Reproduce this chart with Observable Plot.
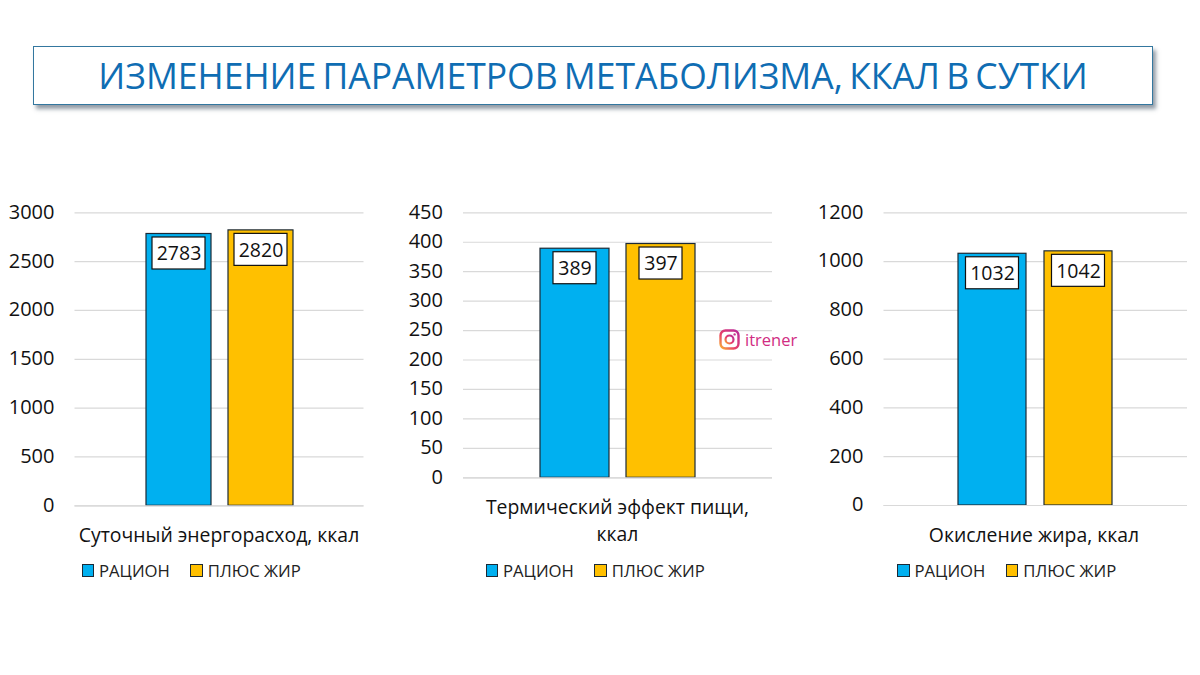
<!DOCTYPE html>
<html lang="ru">
<head>
<meta charset="utf-8">
<script src="https://cdn.jsdelivr.net/npm/d3@7"></script>
<script src="https://cdn.jsdelivr.net/npm/@observablehq/plot@0.6"></script>
<style>
html,body{margin:0;padding:0;background:#fff}
#page{position:relative;width:1200px;height:675px;overflow:hidden;font-family:"Open Sans",sans-serif;color:#111}
#title{position:absolute;left:33px;top:46px;width:1118px;height:57px;border:1px solid #33779f;background:#fff;box-shadow:3px 4px 4px rgba(40,60,80,.5);
 display:flex;align-items:center;justify-content:center;font-family:"Open Sans",sans-serif;font-size:36.5px;color:#0f6db3;white-space:nowrap}
#title span{display:block;transform:translateY(-1px) scaleX(.972);word-spacing:-3px}
.cat{position:absolute;font-size:19.4px;line-height:27.5px;text-align:center;white-space:nowrap;transform:translateX(-50%);color:#111}
.leg{position:absolute;top:559px;display:flex;align-items:center;height:23px;font-size:16.7px;color:#222;white-space:nowrap}
.leg i{display:block;width:10.5px;height:10.5px;border:1px solid #1c2a36;margin-right:5px}
.leg span{display:block;margin-right:20.5px}
#ig{position:absolute;left:719px;top:328px;display:flex;align-items:center;font-size:16.5px;color:#d12c82}
</style>
</head>
<body>
<div id="page">
  <div id="title"><span>ИЗМЕНЕНИЕ ПАРАМЕТРОВ МЕТАБОЛИЗМА, ККАЛ В СУТКИ</span></div>
</div>
<script>
const seriesNames = ["РАЦИОН", "ПЛЮС ЖИР"];
const seriesColors = ["#00B0F0", "#FFC000"];

const energyValues = [2783, 2820];
const energyTicks = [0, 500, 1000, 1500, 2000, 2500, 3000];
const thermicValues = [389, 397];
const thermicTicks = [0, 50, 100, 150, 200, 250, 300, 350, 400, 450];
const fatValues = [1032, 1042];
const fatTicks = [0, 200, 400, 600, 800, 1000, 1200];

const panels = [
  {values: energyValues, ticks: energyTicks, cat: ["Суточный энергорасход, ккал"], catX: 219, catY: 520.5,
   left: 0, width: 380, ml: 74.5, mr: 16.5, h: 325, mb: 14.7, po: .851, pi: .21, boxIn: 6, legX: 81.5},
  {values: thermicValues, ticks: thermicTicks, cat: ["Термический эффект пищи,", "ккал"], catX: 617.5, catY: 492.5,
   left: 400, width: 390, ml: 63, mr: 18, h: 297, mb: 14.7, po: .876, pi: .2, boxIn: 13, legX: 485.5},
  {values: fatValues, ticks: fatTicks, cat: ["Окисление жира, ккал"], catX: 1034, catY: 520.5,
   left: 800, width: 395, ml: 83.5, mr: 8, h: 325, mb: 15, po: .854, pi: .214, boxIn: 7.5, legX: 897}
];

const page = document.getElementById("page");
for (const p of panels) {
  const rows = seriesNames.map((s, i) => ({series: s, value: p.values[i]}));
  const chart = Plot.plot({
    width: p.width,
    height: p.h,
    marginLeft: p.ml,
    marginRight: p.mr,
    marginTop: 17.3,
    marginBottom: p.mb,
    style: {background: "transparent", fontFamily: '"Open Sans",sans-serif', overflow: "visible"},
    x: {domain: seriesNames, paddingInner: p.pi, paddingOuter: p.po, axis: null},
    y: {domain: [0, p.ticks[p.ticks.length - 1]], axis: null},
    color: {domain: seriesNames, range: seriesColors},
    marks: [
      Plot.gridY(p.ticks, {stroke: "#d9d9d9", strokeOpacity: 1, strokeWidth: 1.2}),
      Plot.axisY(p.ticks, {anchor: "left", tickSize: 0, tickPadding: 20.5, tickFormat: "d", fontSize: 20, fill: "#111", label: null, dy: -0.5}),
      Plot.barY(rows, {x: "series", y: "value", fill: "series", stroke: "#1c2a36", strokeWidth: 1.2}),
      Plot.ruleY([0], {stroke: "#d9d9d9", strokeWidth: 1.2}),
      Plot.barY(rows, {x: "series", y1: "value", y2: "value", fill: "#fff", stroke: "#111", strokeWidth: 1.2,
        insetLeft: p.boxIn, insetRight: p.boxIn, insetTop: 3.5, insetBottom: -35.5}),
      Plot.text(rows, {x: "series", y: "value", text: d => String(d.value), fontSize: 19.5, fill: "#111", dy: 20})
    ]
  });
  chart.style.left = p.left + "px";
  chart.style.top = "195px";
  chart.style.position = "absolute";
  page.appendChild(chart);

  const cat = document.createElement("div");
  cat.className = "cat";
  cat.style.left = p.catX + "px";
  cat.style.top = p.catY + "px";
  cat.innerHTML = p.cat.join("<br>");
  page.appendChild(cat);

  const leg = document.createElement("div");
  leg.className = "leg";
  leg.style.left = p.legX + "px";
  seriesNames.forEach((s, i) => {
    const sw = document.createElement("i");
    sw.style.background = seriesColors[i];
    const t = document.createElement("span");
    t.textContent = s;
    leg.append(sw, t);
  });
  page.appendChild(leg);
}

const ig = document.createElement("div");
ig.id = "ig";
ig.innerHTML = `<svg width="21" height="21" viewBox="0 0 21 21" style="margin-right:5px;display:block">
<defs><linearGradient id="igg" x1="0" y1="1" x2="1" y2="0">
<stop offset="0" stop-color="#f9b233"/><stop offset=".4" stop-color="#e8406a"/><stop offset="1" stop-color="#b82a9c"/></linearGradient></defs>
<rect x="1.5" y="1.5" width="18" height="18" rx="5" fill="none" stroke="url(#igg)" stroke-width="2.4"/>
<circle cx="10.5" cy="10.5" r="4" fill="none" stroke="url(#igg)" stroke-width="2.2"/>
<circle cx="15.6" cy="5.4" r="1.2" fill="#c9328e"/></svg><span>itrener</span>`;
page.appendChild(ig);
</script>
</body>
</html>
